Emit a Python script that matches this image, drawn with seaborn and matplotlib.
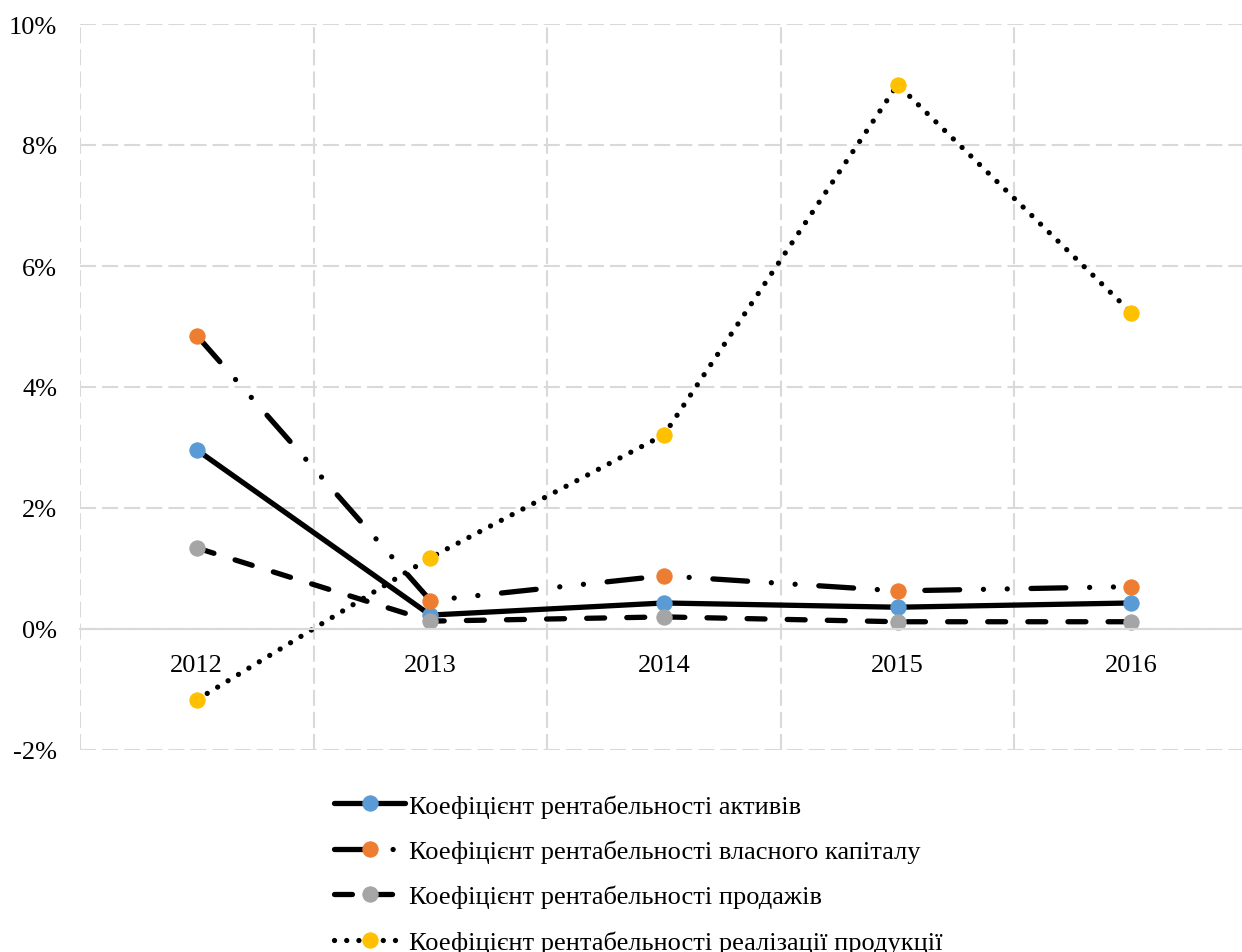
import numpy as np
import pandas as pd
import matplotlib
matplotlib.use('Agg')
import matplotlib.pyplot as plt
import seaborn as sns
from matplotlib.ticker import FuncFormatter, FixedLocator

# Data (values in %)
years = ['2012', '2013', '2014', '2015', '2016']
assets = [2.96, 0.23, 0.43, 0.36, 0.43]
equity = [4.85, 0.47, 0.88, 0.63, 0.70]
sales = [1.34, 0.13, 0.20, 0.12, 0.12]
products = [-1.17, 1.18, 3.21, 9.00, 5.23]

labels = ['Коефіцієнт рентабельності активів',
          'Коефіцієнт рентабельності власного капіталу',
          'Коефіцієнт рентабельності продажів',
          'Коефіцієнт рентабельності реалізації продукції']

sns.set_theme(style='white')
plt.rcParams['font.family'] = ['Liberation Serif', 'DejaVu Serif']
plt.rcParams['axes.unicode_minus'] = False
plt.rcParams['text.color'] = 'black'
plt.rcParams['xtick.color'] = 'black'
plt.rcParams['ytick.color'] = 'black'

fig = plt.figure(figsize=(12.42, 9.53), dpi=100)
# plot area spans past the right edge a little, like the original
ax = fig.add_axes([80 / 1242, 1 - 751 / 953, 1168 / 1242, 726 / 953])

series = [assets, equity, sales, products]
colors = ['#5B9BD5', '#ED7D31', '#A5A5A5', '#FFC000']
styles = ['-', (0, (6.6, 4.5, 0.01, 4.5, 0.01, 4.5)), (0, (3.4, 4.2)), (0, (0.01, 2.3))]

handles = []
for vals, c, ls, lab in zip(series, colors, styles, labels):
    sns.lineplot(x=list(range(len(years))), y=vals, ax=ax, color='black',
                 linewidth=3.8, linestyle=ls, marker='o', markersize=11,
                 markerfacecolor=c, markeredgecolor=c, label=lab,
                 dash_capstyle='round', solid_capstyle='round', legend=False)
    handles.append(ax.lines[-1])

ax.set_xlim(-0.5, 4.5)
ax.set_ylim(-2, 10)
ax.set_yticks(np.arange(-2, 11, 2))
ax.yaxis.set_major_formatter(FuncFormatter(lambda v, p: f'{v:.0f}%'))
ax.set_xticks(range(len(years)))
ax.set_xticklabels(years)
ax.xaxis.set_minor_locator(FixedLocator([-0.5, 0.5, 1.5, 2.5, 3.5]))

grid_ls = (0, (7.7, 2.9))
ax.grid(axis='y', which='major', color='#d9d9d9', linestyle=grid_ls, linewidth=1.5)
ax.grid(axis='x', which='minor', color='#d9d9d9', linestyle=grid_ls, linewidth=1.5)
ax.grid(axis='x', which='major', visible=False)

for s in ['top', 'right', 'left']:
    ax.spines[s].set_visible(False)
ax.spines['bottom'].set_position(('data', 0))
ax.spines['bottom'].set_color('#d9d9d9')
ax.spines['bottom'].set_linewidth(1.5)
ax.set_axisbelow(True)

ax.tick_params(axis='x', which='both', length=0, pad=18, labelsize=19)
ax.tick_params(axis='y', length=0, pad=16.5, labelsize=19)
ax.set_xlabel('')
ax.set_ylabel('')

fig.legend(handles=handles, labels=labels, loc='center left',
           bbox_to_anchor=(321 / 1242, 1 - 875 / 953), frameon=False,
           fontsize=19, handlelength=2.7, handletextpad=0.15,
           labelspacing=0.83, borderpad=0, numpoints=1)

plt.savefig('out.png', dpi=100)
